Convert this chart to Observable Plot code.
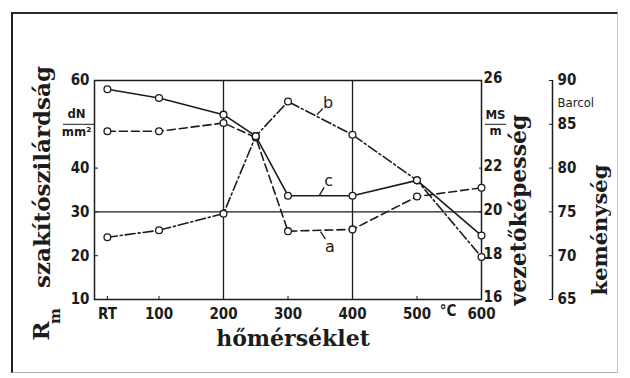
<!DOCTYPE html>
<html><head><meta charset="utf-8">
<script src="https://cdn.jsdelivr.net/npm/d3@7"></script>
<script src="https://cdn.jsdelivr.net/npm/@observablehq/plot@0.6"></script>
<style>
body{margin:0;background:#fff}
#wrap{position:relative;width:630px;height:378px;overflow:hidden;background:#fff}
#border{position:absolute;left:11px;top:12px;width:604px;height:358px;border-left:2.5px solid #1e1e1e;border-top:2px solid #2a2a2a;border-right:1px solid #c8c8c8;border-bottom:1.5px solid #aaa;pointer-events:none}
</style></head><body>
<div id="wrap"><div id="border"></div></div>
<script>
// temperatures (°C), RT ≈ 20
const temps = [20, 100, 200, 250, 300, 400, 500, 600];
// series values read in units of the left axis (dN/mm²)
const seriesA = [48.4, 48.4, 50.3, 47.0, 25.6, 26.0, 33.5, 35.5]; // dashed
const seriesB = [24.2, 25.8, 29.6, 47.3, 55.2, 47.6, 37.2, 19.7]; // dash-dot
const seriesC = [58.0, 56.0, 52.2, 47.3, 33.7, 33.7, 37.2, 24.6]; // solid
const seriesNames = ["a", "b", "c"];
const seriesDash = ["8,4", "10,3,2,3", null];

const xTickValues = [20, 100, 200, 300, 400, 500, 600];
const xTickLabels = ["RT", "100", "200", "300", "400", "500", "600"];
const strengthTicks = [10, 20, 30, 40, 60];
const conductivityTicks = [16, 18, 20, 22, 26];
const hardnessTicks = [65, 70, 75, 80, 85, 90];
const gridXValues = [200, 400];
const gridYValues = [30];

const labelPos = [
  {name: "a", x: 365, y: 22.1},
  {name: "b", x: 362, y: 55.0},
  {name: "c", x: 363, y: 37.0}
];
const leaders = [
  {x1: 350.5, y1: 25.5, x2: 358, y2: 23.8},
  {x1: 345, y1: 52.2, x2: 354, y2: 53.6},
  {x1: 348.5, y1: 33.7, x2: 356, y2: 35.6}
];

const fromCond = c => 10 + (c - 16) * 5;
const fromHard = h => 10 + (h - 65) * 2;
const condMap = new Map(conductivityTicks.map(c => [fromCond(c), c]));
const hardMap = new Map(hardnessTicks.map(h => [fromHard(h), h]));

const allSeries = [seriesA, seriesB, seriesC];
const rows = [];
allSeries.forEach((arr, k) => arr.forEach((v, i) => rows.push({series: seriesNames[k], t: temps[i], v})));

const ink = "#1c1c1c";
const tickFont = "'Liberation Sans Narrow','Arial Narrow','DejaVu Sans Condensed',sans-serif";
const titleFont = "'DejaVu Serif',serif";
const titleSize = 22;

const lineMarks = seriesNames.map((s, k) => Plot.line(rows.filter(d => d.series === s), {
  x: "t", y: "v", stroke: ink, strokeWidth: 1.6,
  strokeDasharray: seriesDash[k] || undefined
}));

const title = (txt, opts) => Plot.text([txt], {text: d => d, textAnchor: "middle",
  fontFamily: titleFont, fontWeight: "bold", fontSize: titleSize, ...opts});

const chart = Plot.plot({
  width: 630, height: 378,
  marginLeft: 94, marginRight: 149, marginTop: 80, marginBottom: 79,
  x: {domain: [0, 600], axis: null},
  y: {domain: [10, 60], axis: null},
  style: {fontFamily: tickFont, fontSize: "15px", color: ink, background: "transparent"},
  marks: [
    Plot.ruleX(gridXValues, {stroke: ink, strokeWidth: 1.3}),
    Plot.ruleY(gridYValues, {stroke: ink, strokeWidth: 1.3}),
    Plot.frame({stroke: ink, strokeWidth: 1.5}),
    // x axis
    Plot.axisX(xTickValues, {tickSize: -3, tickPadding: 12, fontWeight: "bold",
      tickFormat: d => xTickLabels[xTickValues.indexOf(d)]}),
    Plot.text(["°C"], {x: 548, frameAnchor: "bottom", dy: 16, text: d => d, textAnchor: "middle", fontWeight: "bold"}),
    // left axis
    Plot.axisY(strengthTicks, {anchor: "left", tickSize: -4, tickPadding: 9, fontWeight: "bold"}),
    Plot.axisY([50], {anchor: "left", tickSize: 31, tickFormat: () => ""}),
    Plot.text([50], {y: d => d, frameAnchor: "left", dx: -18, dy: -10, textAnchor: "middle", text: () => "dN", fontSize: 13, fontWeight: "bold"}),
    Plot.text([50], {y: d => d, frameAnchor: "left", dx: -18, dy: 8, textAnchor: "middle", text: () => "mm²", fontSize: 13, fontWeight: "bold"}),
    // conductivity axis (ticks, then labels nudged up slightly)
    Plot.axisY(conductivityTicks.map(fromCond), {anchor: "right", tickSize: -3, tickFormat: () => ""}),
    Plot.axisY(conductivityTicks.map(fromCond), {anchor: "right", tickSize: 0, tickPadding: 2, dy: -2, fontWeight: "bold",
      tickFormat: d => condMap.get(d)}),
    Plot.axisY([fromCond(24)], {anchor: "right", tickSize: 21, dx: 3, tickFormat: () => ""}),
    Plot.text([fromCond(24)], {y: d => d, frameAnchor: "right", dx: 14, dy: -9, textAnchor: "middle", text: () => "MS", fontSize: 13, fontWeight: "bold"}),
    Plot.text([fromCond(24)], {y: d => d, frameAnchor: "right", dx: 14, dy: 7, textAnchor: "middle", text: () => "m", fontSize: 13, fontWeight: "bold"}),
    // hardness (Barcol) axis
    Plot.ruleX([600], {dx: 71, stroke: ink, strokeWidth: 1.5}),
    Plot.axisY(hardnessTicks.map(fromHard), {anchor: "right", dx: 71, tickSize: -4, tickPadding: 9, fontWeight: "bold",
      tickFormat: d => hardMap.get(d)}),
    Plot.text([fromHard(87.4)], {y: d => d, frameAnchor: "right", dx: 76, text: () => "Barcol", textAnchor: "start", fontSize: 13}),
    // series
    ...lineMarks,
    Plot.dot(rows, {x: "t", y: "v", r: 3.4, fill: "white", stroke: ink, strokeWidth: 1.3}),
    Plot.link(leaders, {x1: "x1", y1: "y1", x2: "x2", y2: "y2", stroke: ink, strokeWidth: 1.3}),
    Plot.text(labelPos, {x: "x", y: "y", text: "name", fontSize: 16, fontFamily: "'DejaVu Sans',sans-serif"}),
    // titles
    title("hőmérséklet", {frameAnchor: "bottom", dx: 5, dy: 46}),
    title("szakítószilárdság", {frameAnchor: "left", dx: -52, dy: -13, rotate: -90, fontSize: 23}),
    title("R", {frameAnchor: "left", dx: -53, dy: 141, rotate: -90, fontSize: 23}),
    title("m", {frameAnchor: "left", dx: -39, dy: 126, rotate: -90, fontSize: 15}),
    title("vezetőképesség", {frameAnchor: "right", dx: 37, dy: 20, rotate: -90}),
    title("keménység", {frameAnchor: "right", dx: 119, dy: 40, rotate: -90, fontSize: 21})
  ]
});
document.getElementById("wrap").appendChild(chart);
chart.style.position = "absolute";
chart.style.left = "0";
chart.style.top = "0";
</script>
</body></html>
